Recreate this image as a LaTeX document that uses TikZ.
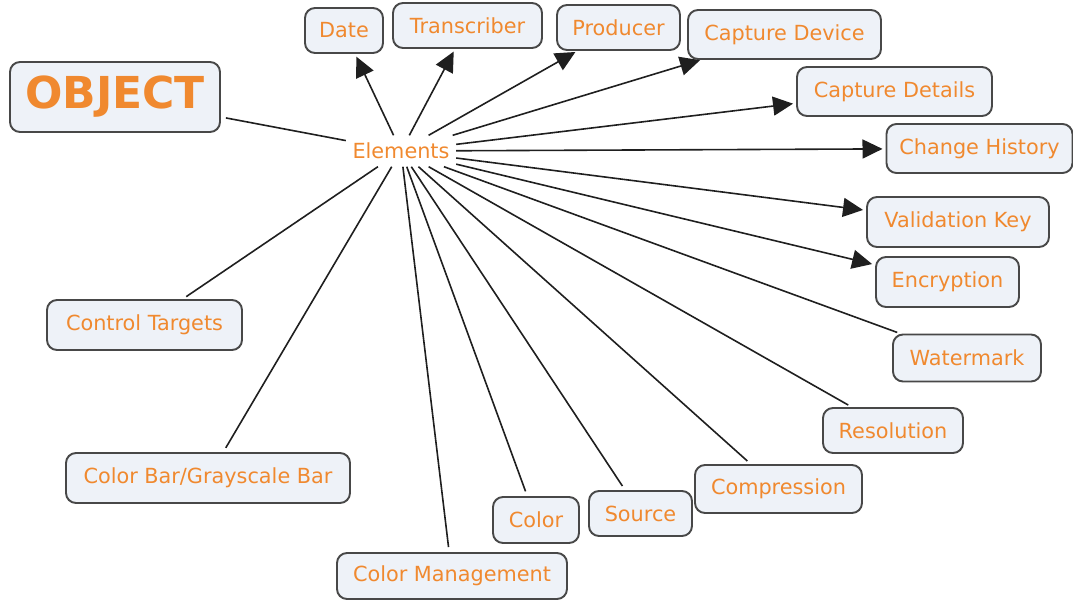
\documentclass[tikz,border=0pt]{standalone}
\usepackage{fontspec}
\setmainfont{DejaVu Sans}
\usetikzlibrary{arrows.meta}
\definecolor{txt}{HTML}{F0892F}
\definecolor{boxfill}{HTML}{EEF2F8}
\definecolor{boxline}{HTML}{484848}
\begin{document}
\begin{tikzpicture}[x=1pt,y=-1pt,
  concept/.style={draw=boxline, line width=1.9pt, fill=boxfill, rounded corners=10pt,
    text=txt, font=\fontsize{20.8}{24}\selectfont, inner sep=0pt, outer sep=0pt},
  dims/.style 2 args={minimum width=#1pt, minimum height=#2pt},
  hub/.style={text=txt, font=\fontsize{20.8}{24}\selectfont, inner sep=0pt,
    minimum width=110pt, minimum height=31pt},
  link/.style={draw=black!88, line width=1.6pt, shorten >=6pt},
  arrow/.style={draw=black!88, line width=1.6pt, shorten >=4pt,
    -{Triangle[length=20pt,width=19pt]}}
]
\useasboundingbox (0,0) rectangle (1073,600);

% central linking phrase
\node[hub] (el) at (401,151) {Elements};

% root concept
\node[concept, dims={210}{70}, font=\fontsize{44}{50}\selectfont\bfseries] (obj) at (115,97) {OBJECT};

% concepts reached by arrows
\node[concept, dims={78}{45}]  (date)  at (344,30.5)  {Date};
\node[concept, dims={149}{45}] (trans) at (467.5,25.5) {Transcriber};
\node[concept, dims={123}{45}] (prod)  at (618.5,27.5) {Producer};
\node[concept, dims={193}{49}] (cdev)  at (784.5,34.5) {Capture Device};
\node[concept, dims={195}{49}] (cdet)  at (894.5,91.5) {Capture Details};
\node[concept, dims={186}{49}] (chist) at (979.5,148.5) {Change History};
\node[concept, dims={182}{50}] (vkey)  at (958,222)    {Validation Key};
\node[concept, dims={143}{50}] (enc)   at (947.5,282)  {Encryption};

% concepts reached by plain lines
\node[concept, dims={148}{47}] (wmark) at (967,358)    {Watermark};
\node[concept, dims={140}{45}] (res)   at (893,430.5)  {Resolution};
\node[concept, dims={167}{48}] (comp)  at (778.5,489)  {Compression};
\node[concept, dims={103}{45}] (src)   at (640.5,513.5) {Source};
\node[concept, dims={86}{46}]  (col)   at (536,520)    {Color};
\node[concept, dims={230}{46}] (cman)  at (452,576)    {Color Management};
\node[concept, dims={284}{50}] (cbar)  at (208,478)    {Color Bar/Grayscale Bar};
\node[concept, dims={195}{50}] (ctarg) at (144.5,325)  {Control Targets};

% connectors
\draw[link] (el) -- (obj);
\foreach \t in {date,trans,prod,cdev,cdet,chist,vkey,enc}
  \draw[arrow] (el) -- (\t);
\foreach \t in {wmark,res,comp,src,col,cman,cbar,ctarg}
  \draw[link] (el) -- (\t);
\end{tikzpicture}
\end{document}
